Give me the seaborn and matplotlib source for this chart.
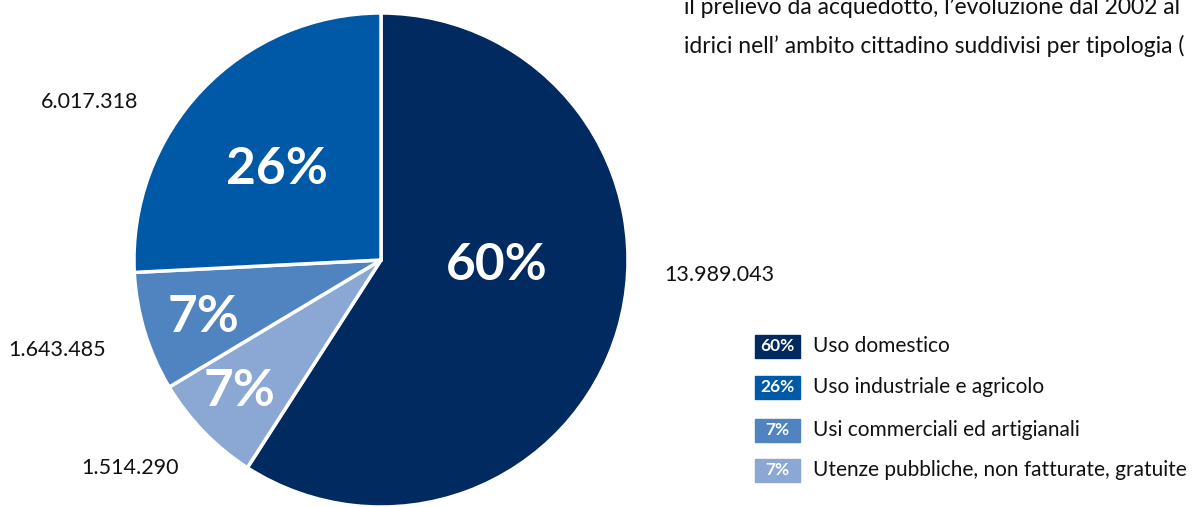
import matplotlib.pyplot as plt
import seaborn as sns
from matplotlib.patches import Rectangle

sns.set_theme(style="white")
plt.rcParams['font.family'] = ['Lato', 'DejaVu Sans']

# data (clockwise from 12 o'clock)
categories = ["Uso domestico", "Utenze pubbliche, non fatturate, gratuite",
              "Usi commerciali ed artigianali", "Uso industriale e agricolo"]
value_labels = ["13.989.043", "1.514.290", "1.643.485", "6.017.318"]
# slice shares as drawn in the picture (%)
shares = [59.1, 7.3, 7.8, 25.8]
pct_labels = ["60%", "7%", "7%", "26%"]
colors = ["#002a60", "#8ba7d3", "#4f84c1", "#0059a6"]

legend_order = [0, 3, 2, 1]

W, H = 1194, 507
fig = plt.figure(figsize=(W / 100, H / 100), dpi=100)

def fx(px):
    return px / W

def fy(py):
    return 1 - py / H

ax = fig.add_axes([fx(134), 0, fx(494), 494 / H])
ax.pie(shares, colors=colors, startangle=90, counterclock=False, radius=1,
       wedgeprops=dict(edgecolor="white", linewidth=2.5))
ax.set_xlim(-1, 1)
ax.set_ylim(-1, 1)
ax.set_aspect("equal")
ax.axis("off")

# percentage labels inside slices
pct_pos = [(497, 265), (240, 392), (204, 317), (277, 170)]
for (x, y), txt in zip(pct_pos, pct_labels):
    fig.text(fx(x), fy(y), txt, color="white", fontsize=37, fontweight="bold",
             ha="center", va="center")

# absolute values around the pie
val_pos = [(719, 275), (130, 468), (57, 350), (90, 102)]
for (x, y), txt in zip(val_pos, value_labels):
    fig.text(fx(x), fy(y), txt, color="#111111", fontsize=15.5, ha="center", va="center")

# header text, cut off at the top
fig.text(fx(684), fy(7), "il prelievo da acquedotto, l\u2019evoluzione dal 2002 al",
         fontsize=16.5, color="#111111", ha="left", va="center")
fig.text(fx(684), fy(46), "idrici nell\u2019 ambito cittadino suddivisi per tipologia (",
         fontsize=16.5, color="#111111", ha="left", va="center")

# custom legend
box_y = [346, 387, 430, 470]
for yc, i in zip(box_y, legend_order):
    fig.patches.append(Rectangle((fx(755), fy(yc + 11.5)), fx(45), 23 / H,
                                 transform=fig.transFigure, color=colors[i]))
    fig.text(fx(777.5), fy(yc), pct_labels[i], color="white", fontsize=12.5,
             fontweight="bold", ha="center", va="center")
    fig.text(fx(813), fy(yc), categories[i], color="#111111", fontsize=15,
             ha="left", va="center")

fig.savefig("out.png", dpi=100)
